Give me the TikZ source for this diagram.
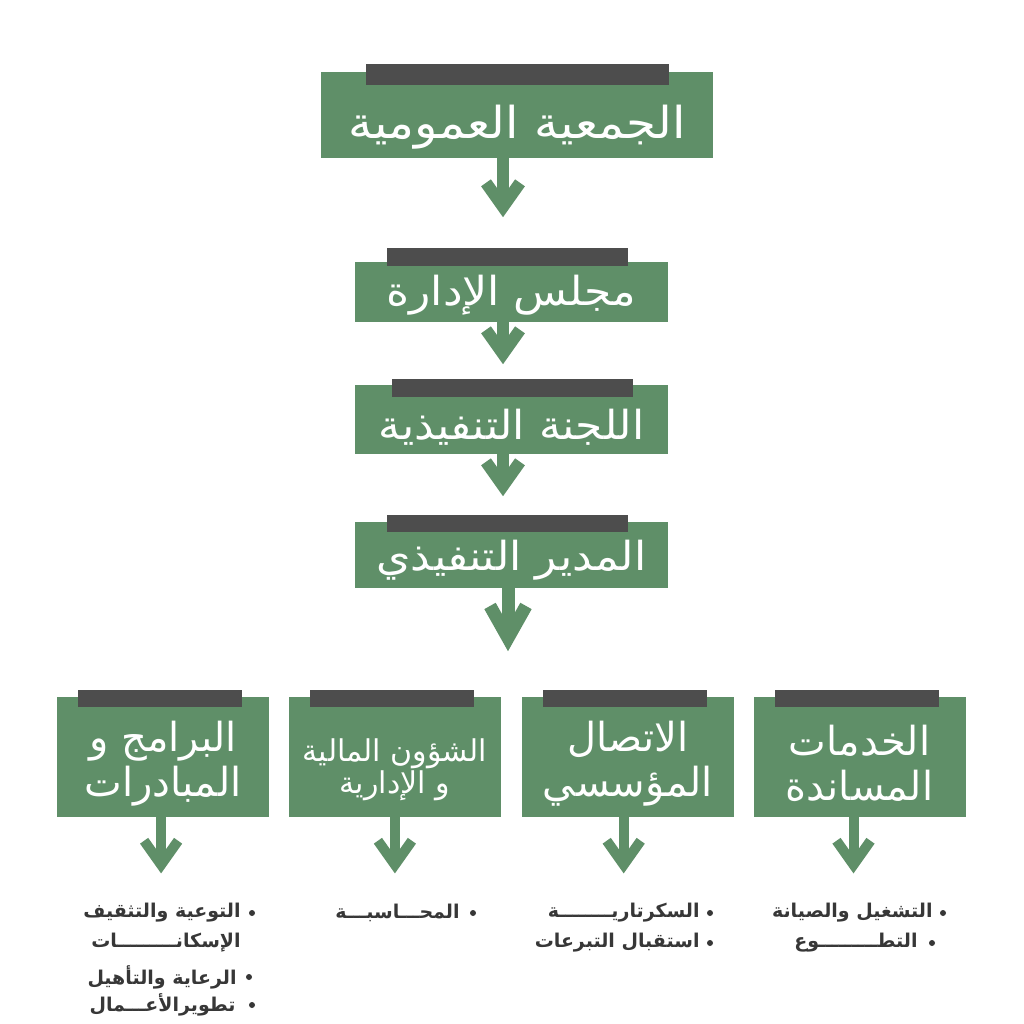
\documentclass[tikz,border=0pt]{standalone}
\usepackage{fontspec}
\newfontfamily\arabicfont[Script=Arabic]{DejaVu Sans}
\newfontfamily\titlefont[Script=Arabic,FakeStretch=1.1]{DejaVu Sans}
\TeXXeTstate=1
\usetikzlibrary{arrows.meta,positioning}
\definecolor{boxgreen}{RGB}{95,143,104}
\definecolor{bargray}{RGB}{77,77,77}
\definecolor{listgray}{RGB}{55,55,55}

\begin{document}
\begin{tikzpicture}[x=0.5pt,y=-0.5pt,
    topbox/.style={fill=boxgreen,text=white,inner sep=0pt,font=\titlefont\fontsize{20}{24}\selectfont,text depth=2pt},
    unitbox/.style={fill=boxgreen,text=white,inner sep=0pt,align=center,minimum width=106pt,minimum height=60pt,font=\arabicfont\fontsize{20}{22.5}\selectfont},
    bar/.style={fill=bargray,inner sep=0pt},
    flow/.style={draw=boxgreen,line width=6pt,-{Straight Barb[length=12pt,width=17pt]}},
    bigflow/.style={draw=boxgreen,line width=6.5pt,-{Straight Barb[length=16pt,width=18pt]}},
    unitflow/.style={draw=boxgreen,line width=5pt,-{Straight Barb[length=12pt,width=17pt]}},
    item/.style={anchor=east,inner sep=0pt,text=listgray,font=\arabicfont\bfseries\fontsize{9.5}{11}\selectfont},
    dot/.style={circle,fill=listgray,inner sep=0pt,minimum size=3pt}]
    \fill[white] (0,0) rectangle (1024,1024);
    \useasboundingbox (0,0) rectangle (1024,1024);

    \node[topbox,minimum width=196pt,minimum height=43pt,text height=25pt,font=\titlefont\fontsize{22}{24}\selectfont] (general) at (517,115) {\beginR الجمعية العمومية\endR};
    \node[bar,minimum width=151.5pt,minimum height=10.5pt] (general-bar) at ([yshift=-1.25pt]general.north) {};
    \node[topbox,minimum width=156.5pt,minimum height=30pt,text height=15pt] (board) at (511.5,292) {\beginR مجلس الإدارة\endR};
    \node[bar,minimum width=120.5pt,minimum height=9pt] (board-bar) at ([xshift=-2pt,yshift=2.5pt]board.north) {};
    \node[topbox,minimum width=156.5pt,minimum height=34.5pt,text height=22pt] (committee) at (511.5,419.5) {\beginR اللجنة التنفيذية\endR};
    \node[bar,minimum width=120.5pt,minimum height=9pt] (committee-bar) at ([xshift=0.5pt,yshift=-1.5pt]committee.north) {};
    \node[topbox,minimum width=156.5pt,minimum height=33pt,text height=17pt] (director) at (511.5,555) {\beginR المدير التنفيذي\endR};
    \node[bar,minimum width=120.5pt,minimum height=8.5pt] (director-bar) at ([xshift=-2pt,yshift=-0.75pt]director.north) {};

    \node[unitbox] (support) at (859.5,757) {\rule{0pt}{22pt}\beginR الخدمات\endR\\\beginR المساندة\endR};
    \node[unitbox,left=9.5pt of support] (media) {\rule{0pt}{22pt}\beginR الاتصال\endR\\\beginR المؤسسي\endR};
    \node[unitbox,left=10pt of media,font=\arabicfont\fontsize{15}{16}\selectfont] (finance) {\rule{0pt}{24pt}\beginR الشؤون المالية\endR\\\beginR و الإدارية\endR};
    \node[unitbox,left=9.5pt of finance] (programs) {\rule{0pt}{22pt}\beginR البرامج و\endR\\\beginR المبادرات\endR};
    \node[bar,minimum width=82pt,minimum height=8.5pt] (support-bar) at ([xshift=-1.5pt,yshift=-0.75pt]support.north) {};
    \node[bar,minimum width=82pt,minimum height=8.5pt] (media-bar) at ([xshift=-1.5pt,yshift=-0.75pt]media.north) {};
    \node[bar,minimum width=82pt,minimum height=8.5pt] (finance-bar) at ([xshift=-1.5pt,yshift=-0.75pt]finance.north) {};
    \node[bar,minimum width=82pt,minimum height=8.5pt] (programs-bar) at ([xshift=-1.5pt,yshift=-0.75pt]programs.north) {};

    \draw[flow,shorten >=15pt] ([xshift=-7pt]general.south) -- ([xshift=-7pt]general.south |- board-bar.north);
    \draw[flow,shorten >=7pt] ([xshift=-4.25pt]board.south) -- ([xshift=-4.25pt]board.south |- committee-bar.north);
    \draw[flow,shorten >=9pt] ([xshift=-4.25pt]committee.south) -- ([xshift=-4.25pt]committee.south |- director-bar.north);
    \draw[bigflow,shorten >=19pt] ([xshift=-1.75pt]director.south) -- ([xshift=-1.75pt]director.south |- finance-bar.north);

    \coordinate (support-end) at ([xshift=-3pt,yshift=-28pt]support.south);
    \coordinate (media-end) at ([xshift=-2pt,yshift=-28pt]media.south);
    \coordinate (finance-end) at ([yshift=-28pt]finance.south);
    \coordinate (programs-end) at ([xshift=-1pt,yshift=-28pt]programs.south);
    \draw[unitflow] (support.south -| support-end) -- (support-end);
    \draw[unitflow] (media.south -| media-end) -- (media-end);
    \draw[unitflow] (finance.south -| finance-end) -- (finance-end);
    \draw[unitflow] (programs.south -| programs-end) -- (programs-end);

    \node[dot] (d1) at (943,913) {};
    \node[item] (t1) at (933,913) {\beginR التشغيل والصيانة\endR};
    \node[dot] (d2) at (932,943) {};
    \node[item] (t2) at (918,943) {\beginR التطـــــــــوع\endR};
    \node[dot] (m1) at (710,913) {};
    \node[item] (s1) at (700,913) {\beginR السكرتاريــــــــة\endR};
    \node[dot] (m2) at (710,943) {};
    \node[item] (s2) at (700,943) {\beginR استقبال التبرعات\endR};
    \node[dot] (f1) at (473,913) {};
    \node[item] (a1) at (460,913) {\beginR المحـــاسبـــة\endR};
    \node[dot] (p1) at (252,913) {};
    \node[item] (r1) at (241,913) {\beginR التوعية والتثقيف\endR};
    \node[item] (r2) at (241,943) {\beginR الإسكانـــــــــات\endR};
    \node[dot] (p3) at (249,977) {};
    \node[item] (r3) at (237,977) {\beginR الرعاية والتأهيل\endR};
    \node[dot] (p4) at (252,1005) {};
    \node[item] (r4) at (236,1005) {\beginR تطويرالأعـــمال\endR};
\end{tikzpicture}
\end{document}
